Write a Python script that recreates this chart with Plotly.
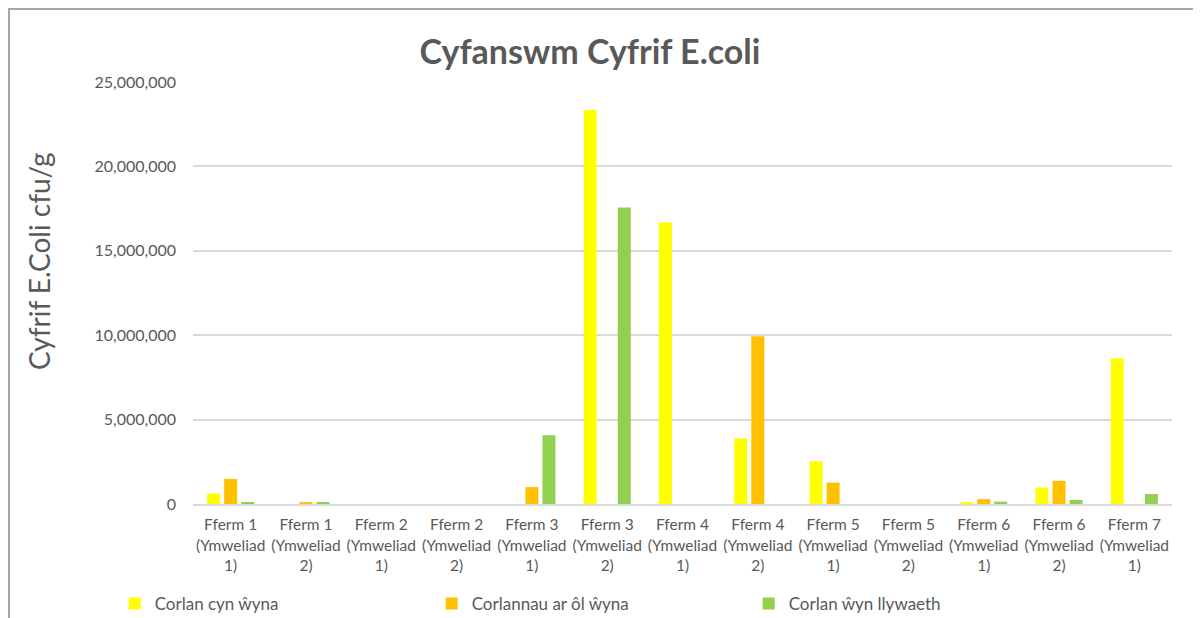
import plotly.graph_objects as go

categories = [
    "Fferm 1<br>(Ymweliad<br>1)", "Fferm 1<br>(Ymweliad<br>2)",
    "Fferm 2<br>(Ymweliad<br>1)", "Fferm 2<br>(Ymweliad<br>2)",
    "Fferm 3<br>(Ymweliad<br>1)", "Fferm 3<br>(Ymweliad<br>2)",
    "Fferm 4<br>(Ymweliad<br>1)", "Fferm 4<br>(Ymweliad<br>2)",
    "Fferm 5<br>(Ymweliad<br>1)", "Fferm 5<br>(Ymweliad<br>2)",
    "Fferm 6<br>(Ymweliad<br>1)", "Fferm 6<br>(Ymweliad<br>2)",
    "Fferm 7<br>(Ymweliad<br>1)",
]

series_names = ["Corlan cyn ŵyna", "Corlannau ar ôl ŵyna", "Corlan ŵyn llywaeth"]

# values (cfu/g)
cyn_wyna = [620000, 0, 0, 0, 0, 23340000, 16670000, 3880000, 2530000, 0, 60000, 980000, 8630000]
ar_ol_wyna = [1490000, 60000, 0, 0, 1000000, 0, 0, 9940000, 1270000, 0, 290000, 1370000, 0]
llywaeth = [80000, 60000, 0, 0, 4080000, 17560000, 0, 0, 0, 0, 140000, 240000, 590000]

colours = ["#FFFF00", "#FFC000", "#92D050"]
grey_text = "#595959"
font_name = "Lato, 'Noto Sans', sans-serif"

# plot area in figure pixels (page adds ~8px offset)
L, R, T, B = 185, 1164, 74, 496
W, H = 1201, 618
pw, ph = R - L, B - T

fig = go.Figure()
for name, vals, col in zip(series_names, [cyn_wyna, ar_ol_wyna, llywaeth], colours):
    fig.add_trace(go.Bar(x=categories, y=vals, name=name, marker_color=col,
                         marker_line_width=0))

fig.update_layout(
    width=W, height=H,
    paper_bgcolor="white", plot_bgcolor="white",
    margin=dict(l=L, r=W - R, t=T, b=H - B, autoexpand=False),
    barmode="group", bargap=0.32, bargroupgap=0.24,
    font=dict(family=font_name, size=15, color=grey_text),
    title=dict(text="<b>Cyfanswm Cyfrif E.coli</b>", x=582 / W, xanchor="center",
               y=1 - 44 / H, yanchor="middle",
               font=dict(size=34, color=grey_text, family=font_name)),
    legend=dict(orientation="h", x=-0.08, xanchor="left", y=-0.194, yanchor="top",
                entrywidth=272, entrywidthmode="pixels",
                font=dict(size=17, color=grey_text), traceorder="normal"),
    showlegend=True,
)

fig.update_xaxes(showline=True, linecolor="#d9d9d9", linewidth=1.5,
                 automargin=False, ticklabelstandoff=6,
                 tickfont=dict(size=15.5, color=grey_text), ticks="")
fig.update_yaxes(range=[0, 25000000], dtick=5000000, tickformat=",d",
                 gridcolor="#d9d9d9", gridwidth=1.5, zeroline=False,
                 automargin=False, ticklabelstandoff=16,
                 tickfont=dict(size=16, color=grey_text))

fig.add_annotation(text="Cyfrif E.Coli cfu/g", textangle=-90,
                   xref="paper", yref="paper",
                   x=(31 - L) / pw, y=(B - 253) / ph,
                   xanchor="center", yanchor="middle",
                   showarrow=False, font=dict(size=28, color=grey_text))

# chart area border (Excel style)
fig.add_shape(type="rect", xref="paper", yref="paper",
              x0=(1 - L) / pw, x1=(W + 20 - L) / pw,
              y0=(B - H - 20) / ph, y1=(B - 1) / ph,
              line=dict(color="#a6a6a6", width=2), fillcolor="rgba(0,0,0,0)",
              layer="below")

fig.write_html("out.html")
